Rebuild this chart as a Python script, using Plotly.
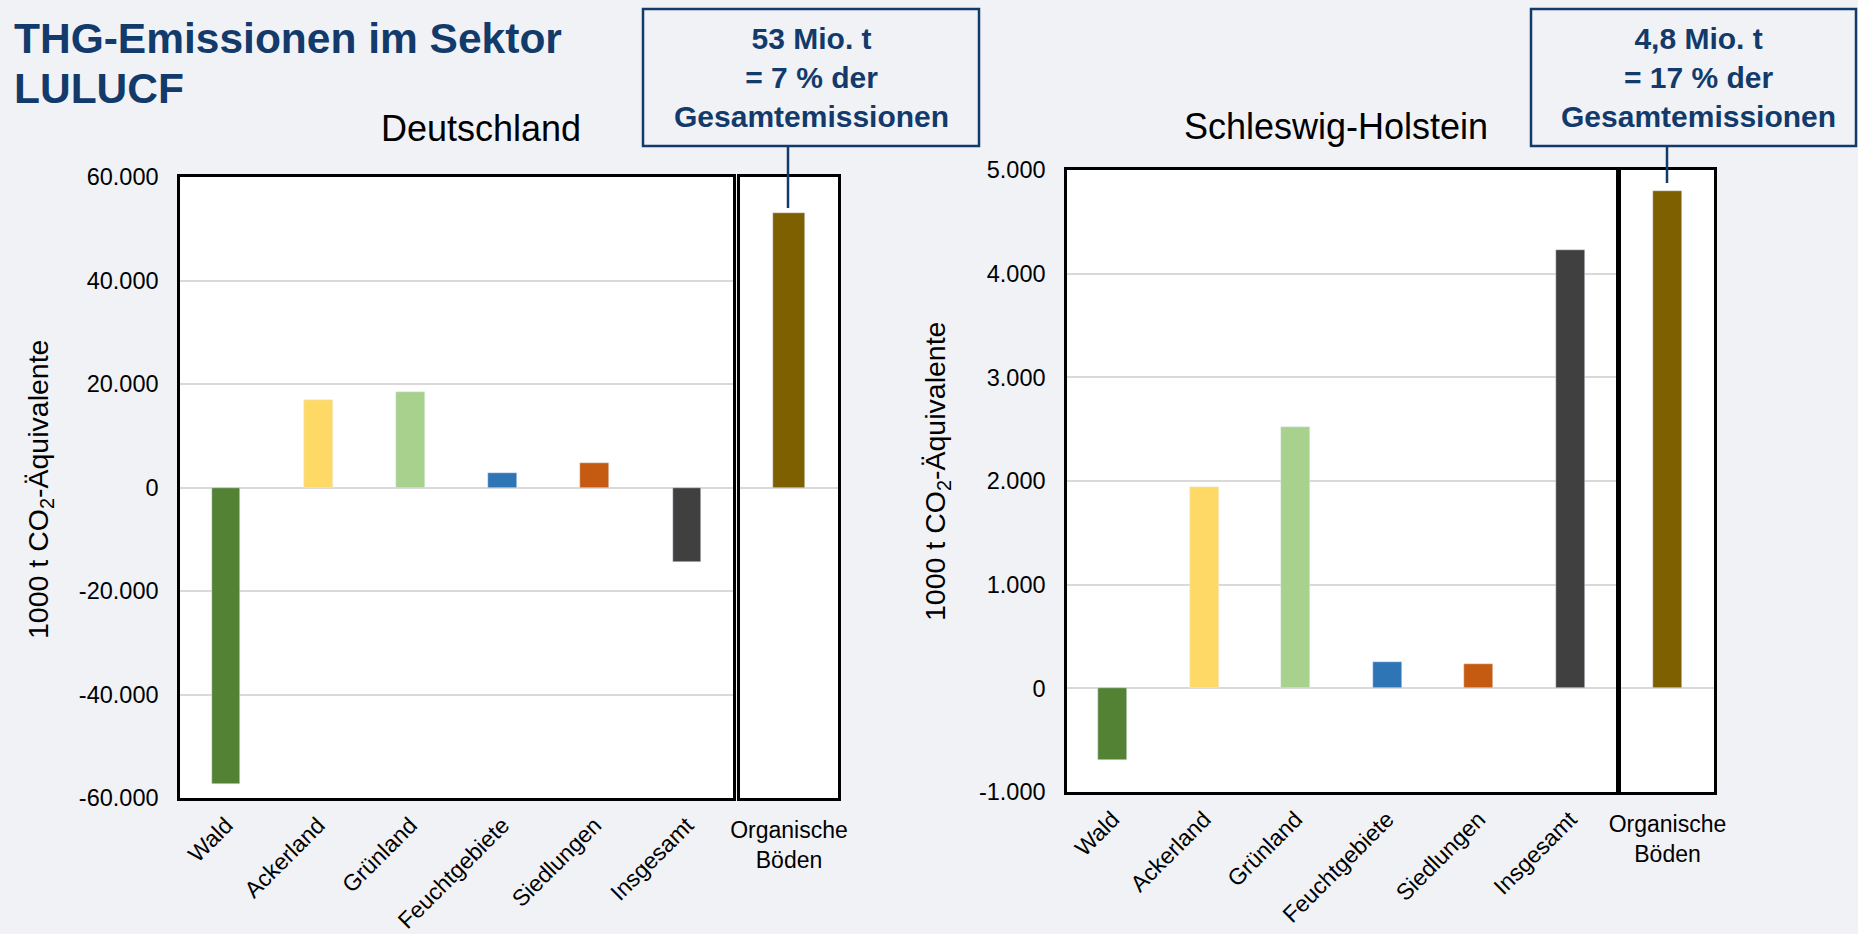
import plotly.graph_objects as go

W, H = 1858, 934

# ---------------- data ----------------
categories = ["Wald", "Ackerland", "Grünland", "Feuchtgebiete", "Siedlungen", "Insgesamt"]
organic_label = ["Organische<br>Böden"]
de_values = [-57200, 17000, 18400, 2800, 4700, -14300]
de_organic = [53000]
sh_values = [-690, 1940, 2520, 250, 230, 4230]
sh_organic = [4800]
bar_colors = ["#548235", "#FFD966", "#A9D18E", "#2E75B6", "#C55A11", "#404040"]
organic_color = "#7F6000"
de_tickvals = [-60000, -40000, -20000, 0, 20000, 40000, 60000]
de_ticktext = ["-60.000", "-40.000", "-20.000", "0", "20.000", "40.000", "60.000"]
sh_tickvals = [-1000, 0, 1000, 2000, 3000, 4000, 5000]
sh_ticktext = ["-1.000", "0", "1.000", "2.000", "3.000", "4.000", "5.000"]
title_lines = ["THG-Emissionen im Sektor", "LULUCF"]
panel_titles = ["Deutschland", "Schleswig-Holstein"]
box_texts = ["<b>53 Mio. t<br>= 7 % der<br>Gesamtemissionen</b>",
             "<b>4,8 Mio. t<br>= 17 % der<br>Gesamtemissionen</b>"]
ytitle = "1000 t CO<sub>2</sub>-Äquivalente"

FONT = "Arial, Liberation Sans, sans-serif"
NAVY = "#123A6B"
BG = "#F1F2F6"
GRID = "#D9D9D9"


def px(x):
    return x / W


def py(y):
    return 1 - y / H


fig = go.Figure()

fig.add_trace(go.Bar(x=categories, y=de_values, marker_color=bar_colors, width=0.31,
                     xaxis="x", yaxis="y", showlegend=False))
fig.add_trace(go.Bar(x=organic_label, y=de_organic, marker_color=organic_color, width=0.32,
                     xaxis="x2", yaxis="y2", showlegend=False))
fig.add_trace(go.Bar(x=categories, y=sh_values, marker_color=bar_colors, width=0.317,
                     xaxis="x3", yaxis="y3", showlegend=False))
fig.add_trace(go.Bar(x=organic_label, y=sh_organic, marker_color=organic_color, width=0.31,
                     xaxis="x4", yaxis="y4", showlegend=False))

frame = dict(showline=True, mirror=True, linecolor="#000000", linewidth=2.5, automargin=False)
xcat = dict(type="category", tickangle=-45, ticks="", tickfont=dict(size=23, color="#000"),
            showgrid=False, ticklabelstandoff=2, **frame)
xorg = dict(type="category", tickangle=0, ticks="", tickfont=dict(size=23, color="#000"),
            showgrid=False, range=[-0.5, 0.5], ticklabelstandoff=10, **frame)

fig.update_layout(
    width=W, height=H,
    margin=dict(l=0, r=0, t=0, b=0, pad=0, autoexpand=False),
    paper_bgcolor=BG, plot_bgcolor="#FFFFFF",
    font=dict(family=FONT, color="#000"),
    bargap=0,
    xaxis=dict(domain=[px(180), px(733)], anchor="y", range=[-0.5, 5.5], **xcat),
    yaxis=dict(domain=[py(798), py(177)], anchor="x", range=[-60000, 60000],
               tickvals=de_tickvals, ticktext=de_ticktext, tickfont=dict(size=23.5, color="#000"),
               showgrid=True, gridcolor=GRID, gridwidth=1.5, zeroline=True, zerolinecolor=GRID,
               zerolinewidth=2, ticks="", ticklabelstandoff=14, **frame),
    xaxis2=dict(domain=[px(740), px(838)], anchor="y2", **xorg),
    yaxis2=dict(domain=[py(798), py(177)], anchor="x2", range=[-60000, 60000],
                showticklabels=False, showgrid=False, zeroline=True, zerolinecolor=GRID,
                zerolinewidth=2, ticks="", **frame),
    xaxis3=dict(domain=[px(1067), px(1616)], anchor="y3", range=[-0.5, 5.5], **xcat),
    yaxis3=dict(domain=[py(792), py(170)], anchor="x3", range=[-1000, 5000],
                tickvals=sh_tickvals, ticktext=sh_ticktext, tickfont=dict(size=23.5, color="#000"),
                showgrid=True, gridcolor=GRID, gridwidth=1.5, zeroline=True, zerolinecolor=GRID,
                zerolinewidth=2, ticks="", ticklabelstandoff=14, **frame),
    xaxis4=dict(domain=[px(1621), px(1714)], anchor="y4", **xorg),
    yaxis4=dict(domain=[py(792), py(170)], anchor="x4", range=[-1000, 5000],
                showticklabels=False, showgrid=False, zeroline=True, zerolinecolor=GRID,
                zerolinewidth=2, ticks="", **frame),
)

ann = []
ann.append(dict(text="<b>%s</b>" % title_lines[0], x=px(12), y=py(13), xref="paper", yref="paper",
                xanchor="left", yanchor="top", showarrow=False,
                font=dict(size=42.5, color=NAVY, family=FONT)))
ann.append(dict(text="<b>%s</b>" % title_lines[1], x=px(12), y=py(63), xref="paper", yref="paper",
                xanchor="left", yanchor="top", showarrow=False,
                font=dict(size=42.5, color=NAVY, family=FONT)))
ann.append(dict(text=panel_titles[0], x=px(481), y=py(128), xref="paper", yref="paper",
                xanchor="center", yanchor="middle", showarrow=False,
                font=dict(size=36, color="#000", family=FONT)))
ann.append(dict(text=panel_titles[1], x=px(1336), y=py(126), xref="paper", yref="paper",
                xanchor="center", yanchor="middle", showarrow=False,
                font=dict(size=36, color="#000", family=FONT)))
ann.append(dict(text=ytitle, x=px(40), y=py(490), xref="paper", yref="paper", textangle=-90,
                xanchor="center", yanchor="middle", showarrow=False,
                font=dict(size=28.5, color="#000", family=FONT)))
ann.append(dict(text=ytitle, x=px(937), y=py(472), xref="paper", yref="paper", textangle=-90,
                xanchor="center", yanchor="middle", showarrow=False,
                font=dict(size=28.5, color="#000", family=FONT)))
ann.append(dict(text=box_texts[0], x=px(811), y=py(78), xref="paper", yref="paper",
                xanchor="center", yanchor="middle", showarrow=False,
                font=dict(size=30, color=NAVY, family=FONT)))
ann.append(dict(text=box_texts[1], x=px(1698), y=py(78), xref="paper", yref="paper",
                xanchor="center", yanchor="middle", showarrow=False,
                font=dict(size=30, color=NAVY, family=FONT)))
fig.update_layout(annotations=ann)

shapes = [
    dict(type="rect", xref="paper", yref="paper", x0=px(643), x1=px(979), y0=py(146), y1=py(9),
         line=dict(color=NAVY, width=2.5), fillcolor="rgba(0,0,0,0)"),
    dict(type="line", xref="paper", yref="paper", x0=px(788), x1=px(788), y0=py(146), y1=py(208),
         line=dict(color=NAVY, width=2.5)),
    dict(type="rect", xref="paper", yref="paper", x0=px(1531), x1=px(1856), y0=py(146), y1=py(9),
         line=dict(color=NAVY, width=2.5), fillcolor="rgba(0,0,0,0)"),
    dict(type="line", xref="paper", yref="paper", x0=px(1667), x1=px(1667), y0=py(146), y1=py(183),
         line=dict(color=NAVY, width=2.5)),
]
fig.update_layout(shapes=shapes)

fig.write_html("out.html")
